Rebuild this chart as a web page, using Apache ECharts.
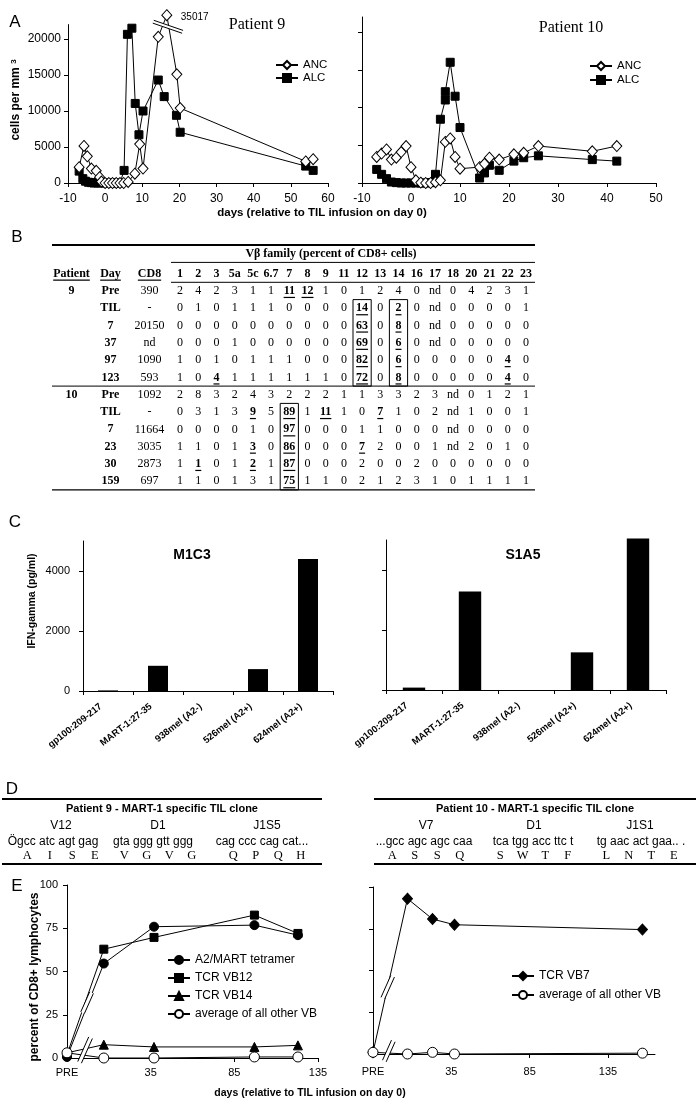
<!DOCTYPE html>
<html><head><meta charset="utf-8">
<script src="https://cdn.jsdelivr.net/npm/echarts@6/dist/echarts.min.js"></script>
<style>html,body{margin:0;padding:0;background:#fff}#c{width:699px;height:1111px}</style>
</head><body><div id="c"></div>
<script>
// ---------------- DATA ----------------
// Panel A – Patient 9 (days relative to TIL infusion, cells per mm3)
const P9_ANC_DAYS = [-7,-5.7,-4.8,-3.7,-2.4,-1.5,-1,0,1,2,3,4,5,6.2,8,9.3,10.2,14.3,16.6,19.3,20.2,54,56];
const P9_ANC      = [2200,5150,3700,2000,1700,800,200,0,0,0,0,0,0,150,1300,5400,2000,20300,23300,15100,10400,3000,3300];
const P9_ANC_BREAK_LABEL = '35017'; // true value of the point drawn above the axis break
const P9_ALC_DAYS = [-7,-6,-5.3,-4.5,-3.7,-3,-2,-1,0,1,2,3,4,5.1,6,7.2,8.1,9.1,10.2,14.3,15.9,19.2,20.2,54,56];
const P9_ALC      = [1650,600,250,100,50,0,0,0,0,0,0,0,0,1750,20650,21500,11050,6700,10000,14300,12000,9400,7050,2350,1750];
// Panel A – Patient 10
const P10_ANC_DAYS = [-7,-6,-5,-4,-3,-2,-1,0,1,2,3,4,5,6,7,8,9,10,14,15,16,18,21,23,26,37,42];
const P10_ANC      = [3450,3900,4450,3100,3350,4100,4900,2100,350,50,0,0,100,350,5450,5900,3450,1900,2100,2550,3350,3100,3800,4000,4900,4200,4900];
const P10_ALC_DAYS = [-7,-6,-5,-4,-3,-2,-1,0,1,2,3,4,5,6,7,7,8,9,10,14,15,16,18,21,23,26,37,42];
const P10_ALC      = [1800,1150,575,130,50,0,0,0,0,0,0,50,1150,8450,11000,12100,16000,11500,7350,660,1330,2350,1680,2900,3350,3600,3100,2900];
const A_Y_TICKS = [0,5000,10000,15000,20000];

// Panel B – V-beta family table
const VB_FAMILIES = ['1','2','3','5a','5c','6.7','7','8','9','11','12','13','14','16','17','18','20','21','22','23'];
const TABLE_HEAD = ['Patient','Day','CD8'];
const TABLE_PATIENT = ['9','','','','','','10','','','','',''];
const TABLE_DAY = ['Pre','TIL','7','37','97','123','Pre','TIL','7','23','30','159'];
const TABLE_CD8 = ['390','-','20150','nd','1090','593','1092','-','11664','3035','2873','697'];
const VB_P9_PRE  = ['2','4','2','3','1','1','11','12','1','0','1','2','4','0','nd','0','4','2','3','1'];
const VB_P9_TIL  = ['0','1','0','1','1','1','0','0','0','0','14','0','2','0','nd','0','0','0','0','1'];
const VB_P9_D7   = ['0','0','0','0','0','0','0','0','0','0','63','0','8','0','nd','0','0','0','0','0'];
const VB_P9_D37  = ['0','0','0','1','0','0','0','0','0','0','69','0','6','0','nd','0','0','0','0','0'];
const VB_P9_D97  = ['1','0','1','0','1','1','1','0','0','0','82','0','6','0','0','0','0','0','4','0'];
const VB_P9_D123 = ['1','0','4','1','1','1','1','1','1','0','72','0','8','0','0','0','0','0','4','0'];
const VB_P10_PRE = ['2','8','3','2','4','3','2','2','2','1','1','3','3','2','3','nd','0','1','2','1'];
const VB_P10_TIL = ['0','3','1','3','9','5','89','1','11','1','0','7','1','0','2','nd','1','0','0','1'];
const VB_P10_D7  = ['0','0','0','0','1','0','97','0','0','0','1','1','0','0','0','nd','0','0','0','0'];
const VB_P10_D23 = ['1','1','0','1','3','0','86','0','0','0','7','2','0','0','1','nd','2','0','1','0'];
const VB_P10_D30 = ['1','1','0','1','2','1','87','0','0','0','2','0','0','2','0','0','0','0','0','0'];
const VB_P10_D159= ['1','1','0','1','3','1','75','1','1','0','2','1','2','3','1','0','1','1','1','1'];
const VB_ROWS = [VB_P9_PRE,VB_P9_TIL,VB_P9_D7,VB_P9_D37,VB_P9_D97,VB_P9_D123,VB_P10_PRE,VB_P10_TIL,VB_P10_D7,VB_P10_D23,VB_P10_D30,VB_P10_D159];
// emphasised (bold, underlined) cells: [data row, family]
const VB_EMPHASIS = [[0,'7'],[0,'8'],[1,'12'],[1,'14'],[2,'12'],[2,'14'],[3,'12'],[3,'14'],[4,'12'],[4,'14'],[4,'22'],
  [5,'3'],[5,'12'],[5,'14'],[5,'22'],[7,'5c'],[7,'7'],[7,'9'],[7,'13'],[8,'7'],[9,'5c'],[9,'7'],[9,'12'],[10,'2'],[10,'5c'],[10,'7'],[11,'7']];
// boxed families: [family, first data row, last data row]
const VB_BOXES = [['12',1,5],['14',1,5],['7',7,11]];
const VB_TITLE = 'V\u03b2 family (percent of CD8+ cells)';

// Panel C – IFN-gamma (pg/ml)
const C_TARGETS = ['gp100:209-217','MART-1:27-35','938mel (A2-)','526mel (A2+)','624mel (A2+)'];
const M1C3_IFN = [20,840,0,730,4400];
const S1A5_IFN = [80,3280,0,1255,5050];
const C_Y_TICKS = [0,2000,4000];

// Panel D – TCR sequences
const D_P9_TITLE = 'Patient 9 - MART-1 specific TIL clone';
const D_P9_GENES = ['V12','D1','J1S5'];
const D_P9_NT = ['\u00d6gcc atc agt gag','gta ggg gtt ggg','cag ccc cag cat...'];
const D_P9_AA = [['A','I','S','E'],['V','G','V','G'],['Q','P','Q','H']];
const D_P10_TITLE = 'Patient 10 - MART-1 specific TIL clone';
const D_P10_GENES = ['V7','D1','J1S1'];
const D_P10_NT = ['...gcc agc agc caa','tca tgg acc ttc t','tg aac act gaa.. .'];
const D_P10_AA = [['A','S','S','Q'],['S','W','T','F'],['L','N','T','E']];

// Panel E – percent of CD8+ lymphocytes (PRE drawn at day -15)
const E_X_TICKS = [-15,35,85,135];
const E_X_LABELS = ['PRE','35','85','135'];
const E_Y_TICKS = [0,25,50,75,100];
const P9E_DAYS = [-15,7,37,97,123];
const P9E_TETRAMER = [0.6,54.6,75.9,76.8,71];
const P9E_VB12 = [2,62.9,69.7,82.6,72];
const P9E_VB14 = [3,7.7,6.4,6.4,7.3];
const P9E_OTHER = [3,0,0,0.6,0.6];
const P10E_DAYS = [-15,7,23,37,157];
const P10E_VB7 = [1,93,80.8,77.4,74.5];
const P10E_OTHER = [1,0,1,0,0.5];

// ---------------- LAYOUT / STYLE ----------------
const SANS = '"Liberation Sans", Arial, sans-serif';
const SERIF = '"Liberation Serif", "Times New Roman", serif';
const K = '#000';
const zip = (a,b) => a.map((v,i)=>[v,b[i]]);
const chart = echarts.init(document.getElementById('c'), null, {renderer:'canvas'});

const axLine = {show:true, onZero:false, lineStyle:{color:K, width:1}};
const plain = v => String(v);
function valueAxis(grid, min, max, interval, ticks, showLabels, labelOpt, extra){
  return Object.assign({type:'value', gridIndex:grid, min, max, interval,
    axisLine:axLine,
    axisTick:{show:true, length:4, lineStyle:{color:K}, customValues:ticks},
    splitLine:{show:false},
    axisLabel:Object.assign({show:showLabels, color:K, fontFamily:SANS, fontSize:12, customValues:ticks, hideOverlap:false, formatter:plain}, labelOpt||{})
  }, extra||{});
}
const ROWS = Array.from({length:13}, (_,i)=>String(i));
function tableAxisX(grid, cats){ return {type:'category', gridIndex:grid, data:cats, show:false}; }
function tableAxisY(grid){ return {type:'category', gridIndex:grid, data:ROWS, inverse:true, show:false}; }
function catAxis(grid){
  return {type:'category', gridIndex:grid, data:C_TARGETS,
    axisLine:{show:true, lineStyle:{color:K}}, axisTick:{show:true, length:4, lineStyle:{color:K}},
    axisLabel:{interval:0, rotate:38, margin:9, padding:[0,9,0,0], color:K, fontFamily:SANS, fontSize:9.5, fontWeight:'bold', hideOverlap:false}};
}
const eFmt = v => { const i = E_X_TICKS.indexOf(v); return i>=0 ? E_X_LABELS[i] : ''; };

const lineS = (name, xi, data, symbol, size, filled, z) => ({
  type:'line', name, xAxisIndex:xi, yAxisIndex:xi, data, symbol, symbolSize:size, showAllSymbol:true,
  clip:false, z:z||2, lineStyle:{color:K, width:1},
  itemStyle:{color: filled ? K : '#fff', borderColor:K, borderWidth:1}, emphasis:{disabled:true}
});

// table cells
const mctx = document.createElement('canvas').getContext('2d');
function textW(t, bold){ mctx.font = (bold?'bold ':'') + '12px "Liberation Serif"'; return mctx.measureText(t).width; }
const cellsL = [], cellsR = [];
TABLE_HEAD.forEach((t,i)=>cellsL.push({col:i,row:0,text:t,bold:true,ul:true}));
VB_FAMILIES.forEach((t,i)=>cellsR.push({col:i,row:0,text:t,bold:true,ul:false}));
TABLE_DAY.forEach((d,r)=>{
  cellsL.push({col:0,row:r+1,text:TABLE_PATIENT[r],bold:true,ul:false});
  cellsL.push({col:1,row:r+1,text:d,bold:true,ul:false});
  cellsL.push({col:2,row:r+1,text:TABLE_CD8[r],bold:false,ul:false});
  VB_ROWS[r].forEach((v,c)=>{
    const em = VB_EMPHASIS.some(e=>e[0]===r && e[1]===VB_FAMILIES[c]);
    cellsR.push({col:c,row:r+1,text:v,bold:em,ul:em});
  });
});
function cellRenderer(cells){
  return function(params, api){
    const c = cells[params.dataIndex];
    const p = api.coord([c.col, c.row]);
    const ch = [{type:'text', x:p[0], y:p[1], style:{text:c.text, fontFamily:SERIF, fontSize:12,
      fontWeight:c.bold?'bold':'normal', fill:K, align:'center', verticalAlign:'middle'}}];
    if (c.ul && c.text){ const w = textW(c.text, c.bold);
      ch.push({type:'line', shape:{x1:p[0]-w/2, y1:p[1]+6.5, x2:p[0]+w/2, y2:p[1]+6.5}, style:{stroke:K, lineWidth:1.2}}); }
    return {type:'group', children:ch};
  };
}
const boxData = VB_BOXES.map(b=>[VB_FAMILIES.indexOf(b[0]), b[1]+1, b[2]+1]);

const option = {
  animation:false, backgroundColor:'#fff',
  textStyle:{fontFamily:SANS, color:K},
  grid:[
    {left:68, top:24.6, width:260, height:158.4, outerBoundsMode:'none'},
    {left:362, top:17, width:294, height:166, outerBoundsMode:'none'},
    {left:52, top:265, width:117, height:224.9, outerBoundsMode:'none'},
    {left:171, top:265, width:364, height:224.9, outerBoundsMode:'none'},
    {left:83, top:541, width:250, height:150, outerBoundsMode:'none'},
    {left:386, top:540, width:280, height:150, outerBoundsMode:'none'},
    {left:67, top:885, width:251, height:173, outerBoundsMode:'none'},
    {left:373, top:887, width:282, height:167, outerBoundsMode:'none'}
  ],
  xAxis:[
    valueAxis(0,-10,60,10,null,true,{margin:10}),
    valueAxis(1,-10,50,10,null,true,{margin:10}),
    tableAxisX(2, TABLE_HEAD),
    tableAxisX(3, VB_FAMILIES),
    catAxis(4), catAxis(5),
    valueAxis(6,-15,135,50,E_X_TICKS,true,{margin:9, fontSize:11, formatter:eFmt}),
    valueAxis(7,-15,165,50,E_X_TICKS,true,{margin:12, fontSize:11, formatter:eFmt})
  ],
  yAxis:[
    valueAxis(0,0,22000,5000,A_Y_TICKS,true,{margin:7}),
    valueAxis(1,0,22000,5000,A_Y_TICKS,false),
    tableAxisY(2), tableAxisY(3),
    valueAxis(4,0,5000,1000,C_Y_TICKS,true,{margin:13, fontSize:11}),
    valueAxis(5,0,5000,1000,C_Y_TICKS,false),
    valueAxis(6,0,100,25,E_Y_TICKS,true,{margin:9, fontSize:11}),
    valueAxis(7,0,100,25,E_Y_TICKS,false)
  ],
  legend:[
    {data:['ANC','ALC'], orient:'vertical', left:270, top:54, itemWidth:22, itemHeight:10, itemGap:1,
     textStyle:{fontFamily:SANS, fontSize:11.5, color:K, lineHeight:12}, selectedMode:false},
    {data:['ANC','ALC'], orient:'vertical', left:584, top:55, itemWidth:22, itemHeight:10, itemGap:2,
     textStyle:{fontFamily:SANS, fontSize:11.5, color:K, lineHeight:12}, selectedMode:false},
    {data:['A2/MART tetramer','TCR VB12','TCR VB14','average of all other VB'], orient:'vertical', left:162, top:949,
     itemWidth:22, itemHeight:10, itemGap:6, textStyle:{fontFamily:SANS, fontSize:12, color:K, lineHeight:12}, selectedMode:false},
    {data:['TCR VB7','average of all other VB'], orient:'vertical', left:506, top:965,
     itemWidth:22, itemHeight:10, itemGap:7, textStyle:{fontFamily:SANS, fontSize:12, color:K, lineHeight:12}, selectedMode:false}
  ],
  series:[
    lineS('ALC',0,zip(P9_ALC_DAYS,P9_ALC),'rect',8,true,2),
    lineS('ANC',0,zip(P9_ANC_DAYS,P9_ANC),'diamond',[10,11],false,3),
    lineS('ALC',1,zip(P10_ALC_DAYS,P10_ALC),'rect',8,true,2),
    lineS('ANC',1,zip(P10_ANC_DAYS,P10_ANC),'diamond',[10,11],false,3),
    {type:'custom', xAxisIndex:2, yAxisIndex:2, data:cellsL.map(c=>[c.col,c.row]), renderItem:cellRenderer(cellsL), silent:true},
    {type:'custom', xAxisIndex:3, yAxisIndex:3, data:cellsR.map(c=>[c.col,c.row]), renderItem:cellRenderer(cellsR), silent:true},
    {type:'custom', xAxisIndex:3, yAxisIndex:3, data:boxData, silent:true, renderItem:(params, api)=>{
      const a = api.coord([api.value(0), api.value(1)]), b = api.coord([api.value(0), api.value(2)]);
      const s = api.size([1,1]);
      return {type:'rect', shape:{x:a[0]-s[0]/2, y:a[1]-s[1]/2, width:s[0], height:b[1]-a[1]+s[1]},
        style:{fill:null, stroke:K, lineWidth:1}};
    }},
    {type:'bar', xAxisIndex:4, yAxisIndex:4, data:M1C3_IFN, barWidth:'40%', itemStyle:{color:K}, clip:false},
    {type:'bar', xAxisIndex:5, yAxisIndex:5, data:S1A5_IFN, barWidth:'40%', itemStyle:{color:K}, clip:false},
    lineS('A2/MART tetramer',6,zip(P9E_DAYS,P9E_TETRAMER),'circle',9,true,4),
    lineS('TCR VB12',6,zip(P9E_DAYS,P9E_VB12),'rect',8,true,3),
    lineS('TCR VB14',6,zip(P9E_DAYS,P9E_VB14),'triangle',9,true,3),
    lineS('average of all other VB',6,zip(P9E_DAYS,P9E_OTHER),'circle',10,false,5),
    lineS('TCR VB7',7,zip(P10E_DAYS,P10E_VB7),'diamond',[10,11],true,3),
    lineS('average of all other VB',7,zip(P10E_DAYS,P10E_OTHER),'circle',10,false,5)
  ]
};
chart.setOption(option);

// ---------------- ANNOTATIONS ----------------
const G = [];
const txt = (t, x, y, o) => G.push({type:'text', x, y, z:100, style:Object.assign({text:t, fill:K, fontFamily:SANS, fontSize:12, align:'center', verticalAlign:'middle'}, o||{})});
const hline = (x1, x2, y, w) => G.push({type:'line', z:100, shape:{x1, y1:y, x2, y2:y}, style:{stroke:K, lineWidth:w||1}});
function breakGlyph(c, angDeg, len, gap){
  const a = angDeg*Math.PI/180, dx = Math.cos(a)*len/2, dy = -Math.sin(a)*len/2;
  const nx = Math.sin(a)*gap/2, ny = Math.cos(a)*gap/2;
  const p1=[c[0]-dx+nx,c[1]-dy+ny], p2=[c[0]+dx+nx,c[1]+dy+ny], q1=[c[0]-dx-nx,c[1]-dy-ny], q2=[c[0]+dx-nx,c[1]+dy-ny];
  G.push({type:'polygon', z:110, shape:{points:[p1,p2,q2,q1]}, style:{fill:'#fff'}});
  G.push({type:'line', z:111, shape:{x1:p1[0],y1:p1[1],x2:p2[0],y2:p2[1]}, style:{stroke:K, lineWidth:1}});
  G.push({type:'line', z:111, shape:{x1:q1[0],y1:q1[1],x2:q2[0],y2:q2[1]}, style:{stroke:K, lineWidth:1}});
}
const px = (gi, v) => chart.convertToPixel({gridIndex:gi}, v);

// panel letters
[['A',15,22],['B',17,237],['C',15,522],['D',12,789],['E',17,886]].forEach(l=>txt(l[0],l[1],l[2],{fontSize:17}));

// Panel A
txt('Patient 9', 257, 25, {fontFamily:SERIF, fontSize:16});
txt('Patient 10', 571, 28, {fontFamily:SERIF, fontSize:16});
txt('cells per mm {s|3}', 16, 100, {fontWeight:'bold', fontSize:12, rich:{s:{fontSize:8, fontWeight:'bold', fontFamily:SANS, verticalAlign:'top'}}});
G[G.length-1].rotation = Math.PI/2;
txt('days (relative to TIL infusion on day 0)', 322, 213, {fontWeight:'bold', fontSize:11.5});
const brk = P9_ANC_DAYS.indexOf(16.6);
breakGlyph(px(0,[16.9,21700]), -19, 31, 3);
const bp = px(0,[P9_ANC_DAYS[brk], P9_ANC[brk]]);
txt(P9_ANC_BREAK_LABEL, bp[0]+14, bp[1]+2, {fontSize:10, align:'left'});

// Panel B rules and title
const tl = px(2,[0,0]), tr = px(3,[VB_FAMILIES.length-1,0]);
const rowH = px(3,[0,1])[1]-tr[1], colW = px(3,[1,0])[0]-px(3,[0,0])[0];
const L0 = tl[0] - (px(2,[1,0])[0]-tl[0])/2, R0 = tr[0]+colW/2, VB0 = px(3,[0,0])[0]-colW/2;
hline(L0, R0, tr[1]-rowH*1.65, 2);
txt(VB_TITLE, 331, tr[1]-rowH*1.14, {fontFamily:SERIF, fontWeight:'bold', fontSize:12});
hline(VB0, R0, tr[1]-rowH*0.65, 1);
hline(VB0, R0, tr[1]+rowH*0.5, 1);
hline(L0, R0, tr[1]+rowH*6.5, 1);
hline(L0, R0, tr[1]+rowH*12.5, 1.3);

// Panel C titles and y label
txt('M1C3', 192, 555, {fontWeight:'bold', fontSize:14});
txt('S1A5', 523, 555, {fontWeight:'bold', fontSize:14});
txt('IFN-gamma (pg/ml)', 32, 601, {fontWeight:'bold', fontSize:10.5});
G[G.length-1].rotation = Math.PI/2;

// Panel D
function dBlock(x1, x2, title, genes, geneX, nts, ntX, aas){
  hline(x1, x2, 799, 2); hline(x1, x2, 864, 2);
  txt(title, (x1+x2)/2, 809, {fontWeight:'bold', fontSize:11});
  genes.forEach((g,i)=>txt(g, geneX[i], 826, {fontSize:12}));
  nts.forEach((n,i)=>txt(n, ntX[i], 842, {fontSize:12}));
  aas.forEach((grp,i)=>grp.forEach((a,j)=>txt(a, geneX[i] + (j-(grp.length-1)/2)*22.5, 856, {fontFamily:SERIF, fontSize:12.5})));
}
dBlock(2, 322, D_P9_TITLE, D_P9_GENES, [61,158,267], D_P9_NT, [53,153,262], D_P9_AA);
dBlock(374, 696, D_P10_TITLE, D_P10_GENES, [426,534,640], D_P10_NT, [424,533,641], D_P10_AA);

// Panel E
txt('percent of CD8+ lymphocytes', 35, 977, {fontWeight:'bold', fontSize:12});
G[G.length-1].rotation = Math.PI/2;
txt('days (relative to TIL infusion on day 0)', 310, 1093, {fontWeight:'bold', fontSize:10.5});
breakGlyph(px(6,[-3,32]), 66, 22, 4);
breakGlyph(px(6,[-4.2,4.6]), 66, 27, 4);
breakGlyph(px(7,[-5.6,40]), 66, 24, 4);
breakGlyph(px(7,[-4.9,1.8]), 66, 22, 4);

chart.setOption({graphic:G});
</script></body></html>
